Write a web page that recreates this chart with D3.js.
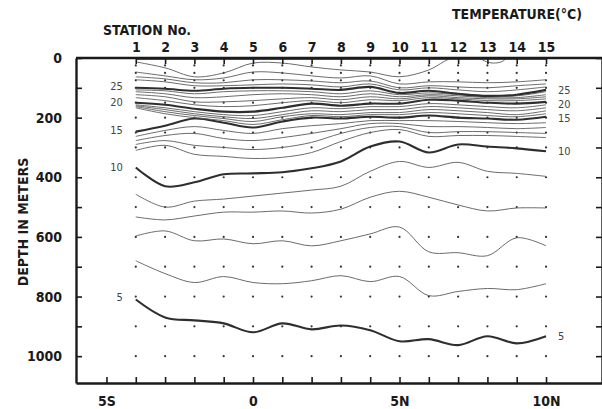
<!DOCTYPE html>
<html>
<head>
<meta charset="utf-8">
<script src="https://cdnjs.cloudflare.com/ajax/libs/d3/7.8.5/d3.min.js"></script>
<style>
  body { margin: 0; background: #fff; }
  text { font-family: "DejaVu Sans Condensed", "DejaVu Sans", sans-serif; fill: #1a1a1a; }
</style>
</head>
<body>
<script>
var width = 602;
var height = 409;

// stations 1..15 sit on 4S .. 10N, one degree apart
var stations = d3.range(1, 16);
var sampleDepths = [25, 50, 75, 100, 150, 200, 250, 300, 400, 500, 600, 700, 800, 900, 1000];
var depthTicks = d3.range(0, 1001, 100);
var latTicks = d3.range(-5, 11);
var latLabelAt = [-5, 0, 5, 10];
var latLabels = ['5S', '0', '5N', '10N'];

// depth (m) of each isotherm at stations 1..15
var iso5  = [810, 870, 880, 890, 920, 890, 910, 897, 913, 950, 943, 963, 933, 957, 933];
var iso6  = [680, 723, 753, 733, 753, 757, 747, 730, 750, 733, 797, 783, 773, 777, 757];
var iso7  = [597, 580, 613, 607, 623, 613, 630, 613, 590, 567, 650, 653, 663, 603, 630];
var iso8  = [533, 543, 530, 517, 517, 513, 520, 507, 467, 447, 467, 493, 513, 503, 503];
var iso9  = [457, 500, 480, 473, 463, 453, 443, 430, 380, 347, 367, 350, 380, 387, 397];
var iso10 = [367, 430, 417, 390, 387, 383, 370, 347, 297, 280, 317, 290, 297, 303, 313];
var iso11 = [310, 293, 323, 330, 337, 333, 317, 280, 250, 240, 263, 260, 260, 263, 267];
var iso12 = [290, 277, 293, 300, 307, 300, 283, 253, 233, 230, 250, 247, 247, 250, 253];
var iso13 = [277, 260, 253, 270, 277, 267, 253, 237, 220, 220, 230, 230, 233, 237, 233];
var iso14 = [263, 243, 230, 243, 253, 237, 227, 220, 210, 210, 210, 213, 217, 220, 217];
var iso15 = [247, 227, 203, 217, 233, 213, 200, 203, 197, 200, 193, 200, 203, 207, 197];
var iso16 = [167, 187, 200, 210, 223, 207, 193, 197, 190, 190, 183, 187, 193, 197, 187];
var iso17 = [163, 180, 193, 203, 213, 197, 187, 190, 183, 183, 173, 177, 183, 190, 177];
var iso18 = [160, 173, 187, 197, 203, 190, 177, 180, 173, 173, 163, 167, 173, 177, 167];
var iso19 = [157, 167, 180, 190, 193, 180, 167, 170, 163, 163, 153, 157, 163, 167, 157];
var iso20 = [150, 157, 170, 180, 180, 167, 153, 160, 153, 153, 140, 143, 150, 153, 147];
var iso21 = [133, 143, 157, 163, 160, 150, 143, 150, 140, 143, 133, 137, 143, 143, 137];
var iso22 = [123, 130, 147, 147, 143, 137, 133, 140, 130, 137, 127, 133, 137, 137, 130];
var iso23 = [113, 120, 133, 130, 123, 120, 123, 130, 120, 130, 123, 127, 133, 133, 123];
var iso24 = [107, 110, 120, 113, 110, 110, 113, 120, 110, 123, 117, 123, 130, 127, 113];
var iso25 = [100, 103, 110, 103, 100, 100, 103, 107,  97, 117, 110, 120, 127, 123, 107];
var iso26 = [ 73,  80,  93,  93,  90,  87,  90,  97,  87, 107, 100, 107, 113, 107,  97];
var iso27 = [ 63,  70,  83,  83,  73,  73,  77,  83,  77, 100,  93,  97, 100,  93,  87];
var iso28 = [ 47,  60,  73,  67,  47,  50,  60,  67,  60,  87,  80,  80,  83,  80,  73];
// 29 outcrops near station 12, plus a small patch at station 13
var iso29Station = [1, 2, 3, 4, 5, 6, 7, 8, 9, 10, 11, 11.5, 11.75];
var iso29Depth   = [13, 33, 63, 50, 17, 17, 30, 40, 47, 63, 40, 13, 0];
var patch29Station = [12.75, 12.9, 13.2, 13.5, 13.65];
var patch29Depth   = [0, 10, 17, 12, 0];

var levels = [5, 6, 7, 8, 9, 10, 11, 12, 13, 14, 15, 16, 17, 18, 19, 20, 21, 22, 23, 24, 25, 26, 27, 28];
var depthsByLevel = [iso5, iso6, iso7, iso8, iso9, iso10, iso11, iso12, iso13, iso14, iso15, iso16,
    iso17, iso18, iso19, iso20, iso21, iso22, iso23, iso24, iso25, iso26, iso27, iso28];
var labelLevels = [25, 20, 15, 10, 5];

var svg = d3.select('body').append('svg')
    .attr('width', width)
    .attr('height', height);

var x = d3.scaleLinear().domain([-6.04, 11.91]).range([76, 602]);
var xs = d3.scaleLinear().domain([1, 15]).range([x(-4), x(10)]);
var y = d3.scaleLinear().domain([0, 1090]).range([58, 383]);

var line = d3.line()
    .x(function (d) { return xs(d[0]); })
    .y(function (d) { return y(d[1]); })
    .curve(d3.curveCatmullRom.alpha(0.5));

// sample dots
var dots = [];
stations.forEach(function (s) {
    sampleDepths.forEach(function (d) { dots.push([s, d]); });
});
svg.append('g').selectAll('circle')
    .data(dots)
    .enter().append('circle')
    .attr('cx', function (d) { return xs(d[0]); })
    .attr('cy', function (d) { return y(d[1]); })
    .attr('r', 1.1)
    .attr('fill', '#333');

// isotherms
var rows = levels.map(function (t, i) {
    return { t: t, pts: stations.map(function (s, j) { return [s, depthsByLevel[i][j]]; }) };
});
rows.push({ t: 29, pts: iso29Station.map(function (s, j) { return [s, iso29Depth[j]]; }) });
rows.push({ t: 29, pts: patch29Station.map(function (s, j) { return [s, patch29Depth[j]]; }) });

svg.append('g').selectAll('path')
    .data(rows)
    .enter().append('path')
    .attr('d', function (d) { return line(d.pts); })
    .attr('fill', 'none')
    .attr('stroke', function (d) { return d.t % 5 === 0 ? '#2e2e2e' : '#5a5a5a'; })
    .attr('stroke-width', function (d) { return d.t % 5 === 0 ? 2.1 : 0.9; });

// contour labels on both ends
var labelRows = rows.filter(function (d) { return labelLevels.indexOf(d.t) >= 0; });
var leftNudge = { 25: -6, 20: -2, 15: -5, 10: 0, 5: -8 };
var rightNudge = { 25: 0, 20: 7, 15: 4, 10: 0, 5: 0 };
svg.append('g').selectAll('text')
    .data(labelRows)
    .enter().append('text')
    .attr('x', xs(1) - 13)
    .attr('y', function (d) { return y(d.pts[0][1] + leftNudge[d.t]); })
    .attr('dy', '0.35em')
    .attr('text-anchor', 'end')
    .style('font-size', '11px')
    .style('fill', '#444')
    .text(function (d) { return d.t; });
svg.append('g').selectAll('text')
    .data(labelRows)
    .enter().append('text')
    .attr('x', xs(15) + 12)
    .attr('y', function (d) { return y(d.pts[14][1] + rightNudge[d.t]); })
    .attr('dy', '0.35em')
    .style('font-size', '11px')
    .style('fill', '#444')
    .text(function (d) { return d.t; });

// axes
var axisLeft = d3.axisLeft(y)
    .tickValues(depthTicks)
    .tickSizeInner(-6)
    .tickSizeOuter(0)
    .tickPadding(14)
    .tickFormat(function (d) { return d % 200 === 0 ? d : ''; });
var axisRight = d3.axisRight(y)
    .tickValues(depthTicks)
    .tickSizeInner(-6)
    .tickSizeOuter(0)
    .tickFormat('');
var axisBottom = d3.axisBottom(x)
    .tickValues(latTicks)
    .tickSizeInner(-6)
    .tickSizeOuter(0)
    .tickPadding(13)
    .tickFormat(function (d) { var i = latLabelAt.indexOf(d); return i >= 0 ? latLabels[i] : ''; });
var axisTop = d3.axisTop(xs)
    .tickValues(stations)
    .tickSizeInner(-6)
    .tickSizeOuter(0)
    .tickPadding(6)
    .tickFormat(function (d) { return d; });

function styleAxis(g) {
    g.select('.domain').attr('stroke', '#1a1a1a').attr('stroke-width', 2.4);
    g.selectAll('.tick line').attr('stroke', '#1a1a1a').attr('stroke-width', 1.6);
    g.selectAll('.tick text')
        .style('font-family', '"DejaVu Sans Condensed", sans-serif')
        .style('font-weight', 'bold')
        .style('font-size', '14px')
        .attr('fill', '#1a1a1a');
}

svg.append('g').attr('transform', 'translate(76,0)').call(axisLeft).call(styleAxis);
svg.append('g').attr('transform', 'translate(602,0)').call(axisRight).call(styleAxis);
svg.append('g').attr('transform', 'translate(0,383)').call(axisBottom).call(styleAxis);
svg.append('g').attr('transform', 'translate(0,58)').call(axisTop).call(styleAxis);
// top frame runs full width
svg.append('line')
    .attr('x1', 76).attr('x2', 602).attr('y1', 58).attr('y2', 58)
    .attr('stroke', '#1a1a1a').attr('stroke-width', 2.4);

// titles
svg.append('text')
    .attr('x', 103).attr('y', 35)
    .style('font-weight', 'bold').style('font-size', '14px')
    .text('STATION No.');
svg.append('text')
    .attr('x', 452).attr('y', 19)
    .style('font-weight', 'bold').style('font-size', '14px')
    .text('TEMPERATURE(°C)');
svg.append('text')
    .attr('transform', 'translate(28,222) rotate(-90)')
    .attr('text-anchor', 'middle')
    .style('font-weight', 'bold').style('font-size', '14px')
    .text('DEPTH IN METERS');
</script>
</body>
</html>
